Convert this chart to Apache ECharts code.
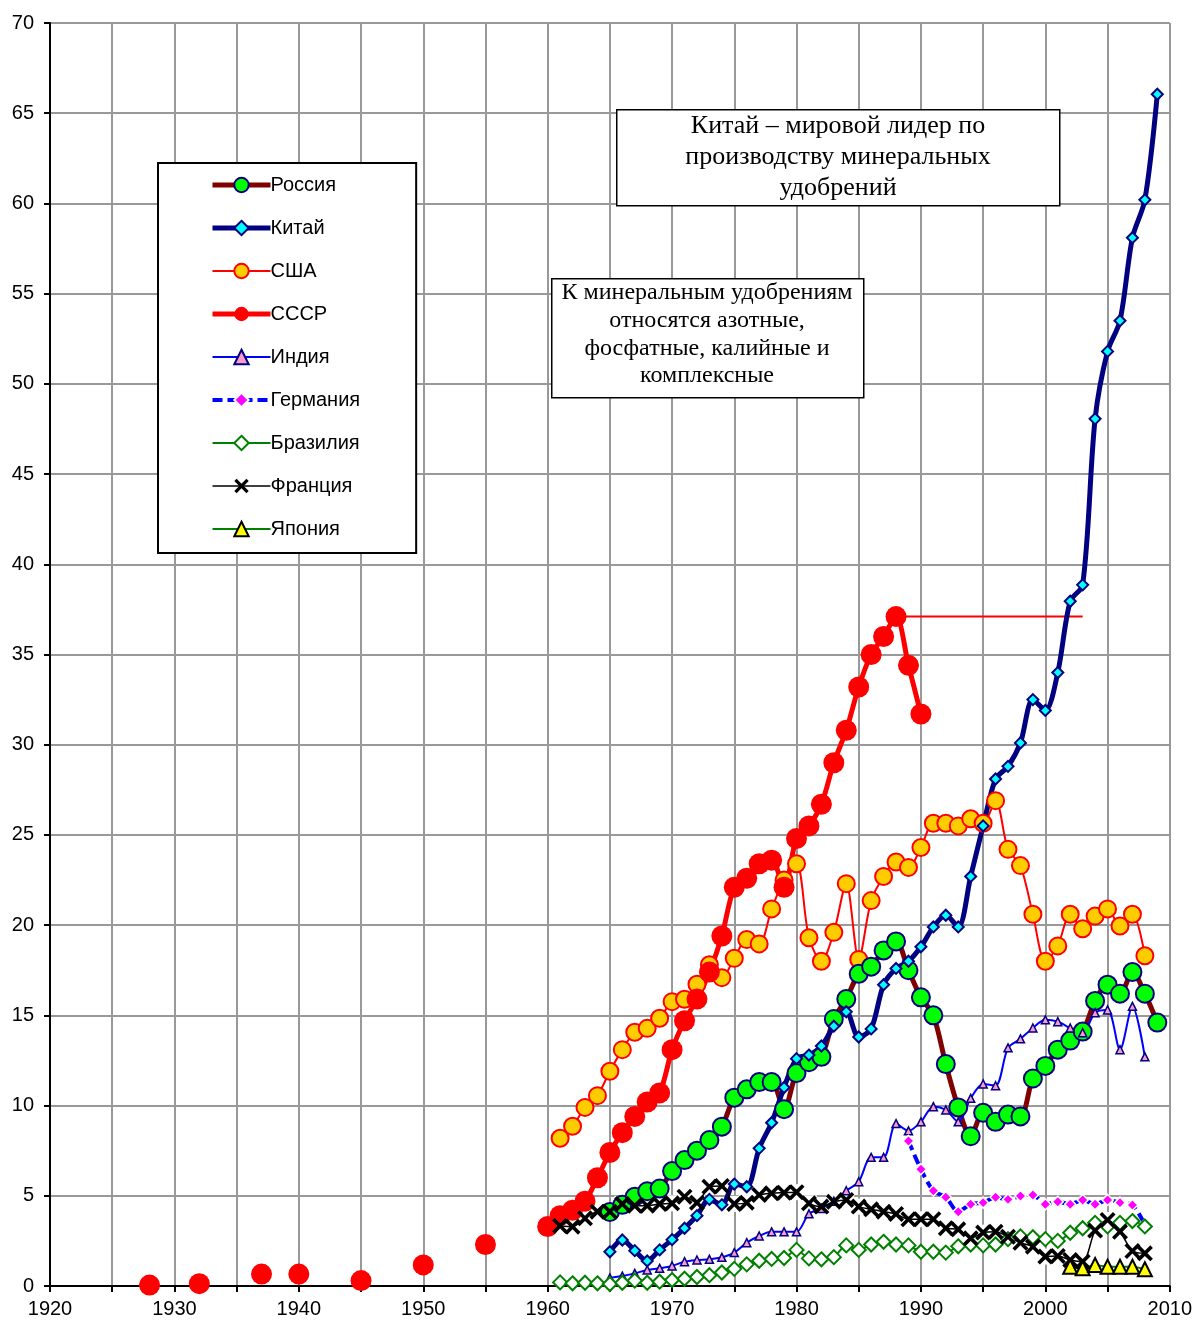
<!DOCTYPE html>
<html><head><meta charset="utf-8">
<script src="https://cdn.jsdelivr.net/npm/echarts@6/dist/echarts.min.js"></script>
<style>html,body{margin:0;padding:0;background:#fff}#c{width:1195px;height:1320px}</style>
</head><body><div id="c"></div>
<script>
// ---- data (млн т) ----
const xTicks = [1920,1930,1940,1950,1960,1970,1980,1990,2000,2010];
const yTicks = [0,5,10,15,20,25,30,35,40,45,50,55,60,65,70];

const ussrEarlyYears = [1928,1932,1937,1940,1945,1950,1955];
const ussrEarly = [0.05,0.13,0.66,0.66,0.3,1.17,2.3];

const ussrStart = 1960;
const ussr = [3.3,3.9,4.2,4.7,6.0,7.4,8.5,9.4,10.2,10.7,13.1,14.7,15.9,17.4,19.4,22.1,22.6,23.4,23.6,22.1,
  24.8,25.5,26.7,29.0,30.8,33.2,35.0,36.0,37.1,34.4,31.7];

const peakYears = [1988,2003];
const peakValues = [37.1,37.1];

const russiaStart = 1965;
const russia = [4.1,4.5,4.95,5.25,5.4,6.37,6.98,7.5,8.09,8.83,10.44,10.9,11.3,11.3,9.8,11.8,12.4,12.7,14.8,15.9,
  17.3,17.7,18.6,19.1,17.5,16.0,15.0,12.3,9.9,8.3,9.6,9.1,9.5,9.4,11.5,12.2,13.1,13.6,14.1,15.8,16.7,16.2,17.4,16.2,14.6];

const chinaStart = 1965;
const china = [1.9,2.55,1.96,1.39,2.0,2.57,3.2,3.9,4.8,4.5,5.65,5.5,7.63,9.05,11.0,12.6,12.8,13.3,14.4,15.2,
  13.8,14.25,16.7,17.6,18.0,18.8,19.9,20.55,19.9,22.7,25.5,28.1,28.8,30.1,32.5,31.9,34.0,37.95,38.86,48.06,
  51.8,53.5,58.1,60.2,66.05];

const usaStart = 1961;
const usa = [8.19,8.85,9.9,10.55,11.9,13.1,14.06,14.28,14.84,15.76,15.89,16.72,17.8,17.09,18.16,19.2,18.96,20.9,22.5,23.4,
  19.3,18.0,19.6,22.3,18.1,21.36,22.7,23.5,23.2,24.3,25.65,25.65,25.5,25.9,25.65,26.9,24.2,23.3,20.6,18.0,
  18.85,20.6,19.8,20.5,20.9,19.95,20.6,18.3];

const indiaStart = 1965;
const india = [0.45,0.55,0.7,0.89,0.98,1.11,1.35,1.44,1.48,1.59,1.85,2.4,2.77,3.0,3.0,3.0,4.0,4.3,4.7,5.28,
  5.78,7.13,7.13,9.0,8.6,9.1,9.94,9.76,9.1,10.4,11.2,11.1,13.2,13.7,14.3,14.75,14.65,14.3,14.04,15.15,
  15.3,13.1,15.5,12.7];

const germanyStart = 1989;
const germany = [8.04,6.47,5.28,4.92,4.12,4.53,4.62,4.92,4.8,4.99,5.04,4.53,4.67,4.53,4.77,4.53,4.77,4.62,4.49,3.4];

const brazilStart = 1961;
const brazil = [0.2,0.15,0.18,0.15,0.11,0.18,0.3,0.18,0.24,0.33,0.4,0.5,0.6,0.75,0.95,1.2,1.4,1.5,1.55,2.0,
  1.53,1.48,1.6,2.25,2.0,2.3,2.45,2.3,2.25,1.9,1.9,1.85,2.2,2.3,2.25,2.3,2.6,2.75,2.7,2.6,
  2.5,2.95,3.2,3.5,3.3,3.5,3.6,3.3];

const franceStart = 1961;
const france = [3.33,3.29,3.75,4.12,4.12,4.55,4.45,4.45,4.55,4.58,4.95,4.62,5.5,5.54,4.55,4.62,5.04,5.14,5.17,5.2,
  4.58,4.4,4.67,4.77,4.4,4.25,4.12,3.99,3.7,3.7,3.7,3.2,3.14,2.64,2.96,3.01,2.73,2.4,2.18,1.63,
  1.66,1.44,1.35,3.07,3.66,3.01,1.94,1.81];

const japanStart = 2002;
const japan = [1.07,0.98,1.16,1.07,1.07,1.07,0.93];

const names = ['Россия','Китай','США','СССР','Индия','Германия','Бразилия','Франция','Япония'];
const legendWidths = [5,5,2,5,2,4,2,1.5,2];

// ---- helpers ----
const seq = (start, vals) => vals.map((v, i) => [start + i, v]);
const zip = (xs, vals) => vals.map((v, i) => [xs[i], v]);
const X_PATH = 'path://M0,1.6L1.6,0L5,3.4L8.4,0L10,1.6L6.6,5L10,8.4L8.4,10L5,6.6L1.6,10L0,8.4L3.4,5Z';
const SM = 0.3;

const chart = echarts.init(document.getElementById('c'), null, {renderer: 'canvas'});
const font = '"Liberation Sans", Arial, sans-serif';
const serif = '"Liberation Serif", "Times New Roman", serif';

chart.setOption({
  animation: false,
  backgroundColor: '#fff',
  grid: {left: 50, right: 25, top: 23, bottom: 34, containLabel: false},
  xAxis: {
    type: 'value', min: 1920, max: 2010, interval: 5,
    axisLine: {show: true, lineStyle: {color: '#000', width: 2}},
    axisTick: {show: true, length: 6, lineStyle: {color: '#000', width: 2}},
    axisLabel: {margin: 13, color: '#000', fontSize: 20, fontFamily: font,
      formatter: v => xTicks.includes(v) ? String(v) : ''},
    splitLine: {show: true, lineStyle: {color: '#999', width: 2}}
  },
  yAxis: {
    type: 'value', min: 0, max: 70, interval: 5,
    axisLine: {show: true, lineStyle: {color: '#000', width: 2}},
    axisTick: {show: true, length: 6, lineStyle: {color: '#000', width: 2}},
    axisLabel: {margin: 16, color: '#000', fontSize: 20, fontFamily: font,
      formatter: v => yTicks.includes(v) ? String(v) : ''},
    splitLine: {show: true, lineStyle: {color: '#999', width: 2}}
  },
  legend: {
    orient: 'vertical', left: 158, top: 163,
    padding: [12, 56, 14, 52],
    itemWidth: 58, itemHeight: 18, itemGap: 23,
    backgroundColor: '#fff', borderColor: '#000', borderWidth: 2,
    textStyle: {fontFamily: font, fontSize: 20, color: '#000', padding: [0,0,0,-5]},
    data: names.map((n, i) => ({name: n, lineStyle: {width: legendWidths[i]}}))
  },
  graphic: [
    {type: 'rect', left: 616, top: 109, shape: {width: 443, height: 96},
      style: {fill: '#fff', stroke: '#000', lineWidth: 1.5}, z: 100},
    {type: 'text', x: 838, y: 111, z: 101,
      style: {text: 'Китай – мировой лидер по\nпроизводству минеральных\nудобрений',
        font: '26px ' + serif, fill: '#000', textAlign: 'center', lineHeight: 31}},
    {type: 'rect', left: 551, top: 278, shape: {width: 312, height: 119},
      style: {fill: '#fff', stroke: '#000', lineWidth: 1.5}, z: 100},
    {type: 'text', x: 707, y: 279, z: 101,
      style: {text: 'К минеральным удобрениям\nотносятся азотные,\nфосфатные, калийные и\nкомплексные',
        font: '24px ' + serif, fill: '#000', textAlign: 'center', lineHeight: 27.7}}
  ],
  series: [
    {name: 'peak', type: 'line', data: zip(peakYears, peakValues), symbol: 'none',
      lineStyle: {color: '#ff0000', width: 2}, silent: true},
    {name: 'США', type: 'line', data: seq(usaStart, usa), smooth: SM,
      symbol: 'circle', symbolSize: 17,
      lineStyle: {color: '#ff0000', width: 2},
      itemStyle: {color: '#ffcc00', borderColor: '#ff0000', borderWidth: 2}},
    {name: 'СССР', type: 'line', data: seq(ussrStart, ussr), smooth: SM,
      symbol: 'circle', symbolSize: 21,
      lineStyle: {color: '#ff0000', width: 5},
      itemStyle: {color: '#ff0000', borderColor: '#ff0000', borderWidth: 0}},
    {name: 'СССР ', type: 'scatter', data: zip(ussrEarlyYears, ussrEarly),
      symbol: 'circle', symbolSize: 21, itemStyle: {color: '#ff0000', opacity: 1}},
    {name: 'Россия', type: 'line', data: seq(russiaStart, russia), smooth: SM,
      symbol: 'circle', symbolSize: 18,
      lineStyle: {color: '#800000', width: 5},
      itemStyle: {color: '#00ff00', borderColor: '#000080', borderWidth: 2}},
    {name: 'Китай', type: 'line', data: seq(chinaStart, china), smooth: SM,
      symbol: 'diamond', symbolSize: 11,
      lineStyle: {color: '#000080', width: 5},
      itemStyle: {color: '#00ffff', borderColor: '#000080', borderWidth: 2}},
    {name: 'Индия', type: 'line', data: seq(indiaStart, india), smooth: SM,
      symbol: 'triangle', symbolSize: 8,
      lineStyle: {color: '#0000ff', width: 2},
      itemStyle: {color: '#ff99cc', borderColor: '#000080', borderWidth: 1.5}},
    {name: 'Германия', type: 'line', data: seq(germanyStart, germany), smooth: SM,
      symbol: 'diamond', symbolSize: 11,
      lineStyle: {color: '#0000ff', width: 4, type: [10, 5]},
      itemStyle: {color: '#ff00ff', borderColor: '#fff', borderWidth: 1.5}},
    {name: 'Бразилия', type: 'line', data: seq(brazilStart, brazil), smooth: SM,
      symbol: 'diamond', symbolSize: 14,
      lineStyle: {color: '#008000', width: 2},
      itemStyle: {color: '#fff', borderColor: '#008000', borderWidth: 2}},
    {name: 'Франция-фон', type: 'scatter', data: seq(franceStart, france),
      symbol: 'rect', symbolSize: 16, itemStyle: {color: '#fff', opacity: 1}, silent: true},
    {name: 'Франция', type: 'line', data: seq(franceStart, france), smooth: SM,
      symbol: X_PATH, symbolSize: 16,
      lineStyle: {color: '#000', width: 1.5},
      itemStyle: {color: '#000'}},
    {name: 'Япония', type: 'line', data: seq(japanStart, japan), smooth: SM,
      symbol: 'triangle', symbolSize: 14,
      lineStyle: {color: '#008000', width: 2},
      itemStyle: {color: '#ffff00', borderColor: '#000', borderWidth: 2}}
  ]
});
</script>
</body></html>
